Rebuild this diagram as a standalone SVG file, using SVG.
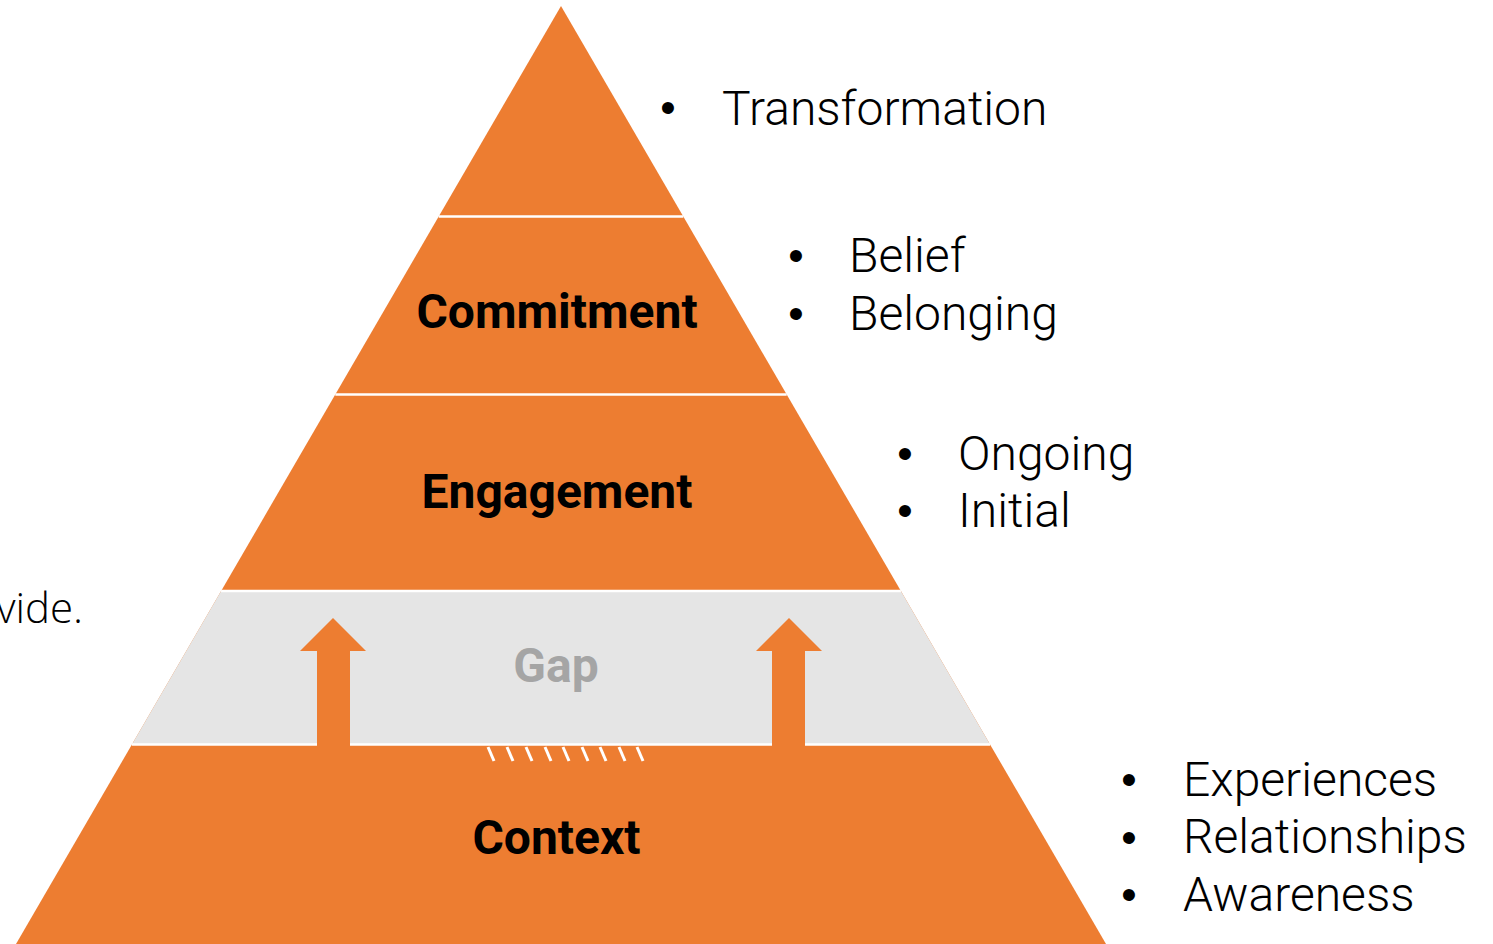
<svg xmlns="http://www.w3.org/2000/svg" width="1493" height="944" viewBox="0 0 1493 944">
  <style>
    .orange { fill: #ED7D31; }
    .gap { fill: #E5E5E5; }
    .divider { stroke: #FFFFFF; stroke-width: 2.5; fill: none; }
    .hatch { stroke: #FFFFFF; stroke-width: 3; fill: none; }
    .label { font-family: Roboto, "Liberation Sans", sans-serif; font-weight: 700; font-size: 48px; text-anchor: middle; fill: #000000; }
    .gaplabel { fill: #A5A5A5; }
    .item { font-family: Roboto, "Liberation Sans", sans-serif; font-weight: 300; font-size: 48px; fill: #000000; }
    .bullet { font-family: "Liberation Sans", Arial, sans-serif; font-size: 44px; text-anchor: middle; fill: #000000; }
    .side { font-family: "Open Sans", "Liberation Sans", sans-serif; font-weight: 300; font-size: 42px; fill: #000000; }
  </style>
  <rect width="1493" height="944" fill="#FFFFFF"/>
  <text class="side" x="83" y="623" text-anchor="end">vide.</text>

  <g id="pyramid">
    <polygon class="orange" points="561,6 1106,944 16,944"/>
    <polygon class="gap" points="221.1,591 900.9,591 990.1,744.5 131.9,744.5"/>
    <line class="divider" x1="438.7" y1="216.5" x2="683.3" y2="216.5"/>
    <line class="divider" x1="335.3" y1="394.5" x2="786.7" y2="394.5"/>
    <line class="divider" x1="221.1" y1="591" x2="900.9" y2="591"/>
    <line class="divider" x1="131.9" y1="744.5" x2="990.1" y2="744.5"/>
  </g>

  <g id="transformation">
    <text class="bullet" x="668" y="123">•</text>
    <text class="item" x="722" y="125">Transformation</text>
  </g>

  <g id="commitment">
    <text class="label" x="557" y="328">Commitment</text>
    <text class="bullet" x="796" y="271">•</text>
    <text class="item" x="849" y="272">Belief</text>
    <text class="bullet" x="796" y="329">•</text>
    <text class="item" x="849" y="330">Belonging</text>
  </g>

  <g id="engagement">
    <text class="label" x="557" y="508">Engagement</text>
    <text class="bullet" x="905" y="469">•</text>
    <text class="item" x="958" y="470">Ongoing</text>
    <text class="bullet" x="905" y="526">•</text>
    <text class="item" x="958" y="527">Initial</text>
  </g>

  <g id="gap">
    <text class="label gaplabel" x="556" y="682">Gap</text>
  </g>

  <g id="context">
    <g id="hatching">
      <line class="hatch" x1="488" y1="747" x2="494" y2="761"/>
      <line class="hatch" x1="507" y1="747" x2="513" y2="761"/>
      <line class="hatch" x1="526" y1="747" x2="532" y2="761"/>
      <line class="hatch" x1="545" y1="747" x2="551" y2="761"/>
      <line class="hatch" x1="563" y1="747" x2="569" y2="761"/>
      <line class="hatch" x1="582" y1="747" x2="588" y2="761"/>
      <line class="hatch" x1="600" y1="747" x2="606" y2="761"/>
      <line class="hatch" x1="619" y1="747" x2="625" y2="761"/>
      <line class="hatch" x1="637" y1="747" x2="643" y2="761"/>
    </g>
    <text class="label" x="556.5" y="854">Context</text>
    <text class="bullet" x="1129" y="795">•</text>
    <text class="item" x="1183" y="796">Experiences</text>
    <text class="bullet" x="1129" y="853">•</text>
    <text class="item" x="1183" y="853">Relationships</text>
    <text class="bullet" x="1129" y="910">•</text>
    <text class="item" x="1183" y="911">Awareness</text>
  </g>

  <g id="connectors">
    <path class="orange" d="M333,618 L366,651 L350,651 L350,748 L317,748 L317,651 L300,651 Z"/>
    <path class="orange" d="M789,618 L822,651 L805,651 L805,748 L772,748 L772,651 L756,651 Z"/>
  </g>
</svg>
